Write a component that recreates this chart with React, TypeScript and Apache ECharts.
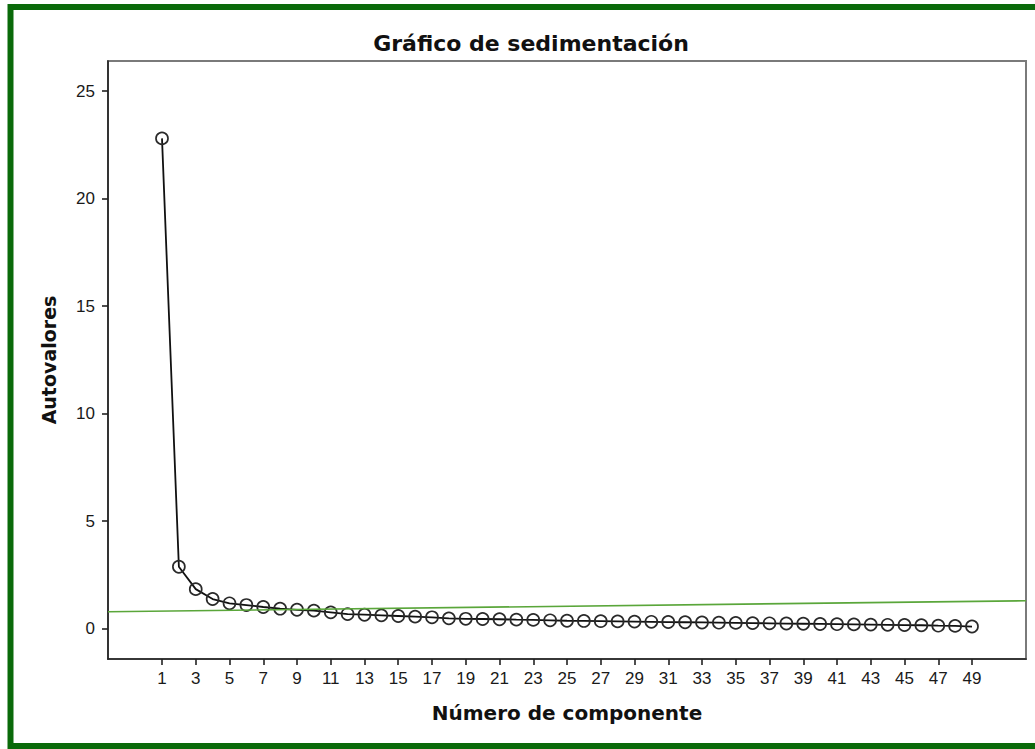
import React, { useEffect, useRef } from "react";
import * as echarts from "echarts";

const components = [
  1, 2, 3, 4, 5, 6, 7, 8, 9, 10, 11, 12, 13, 14, 15, 16, 17, 18, 19, 20, 21, 22, 23, 24, 25,
  26, 27, 28, 29, 30, 31, 32, 33, 34, 35, 36, 37, 38, 39, 40, 41, 42, 43, 44, 45, 46, 47, 48, 49,
];
const eigenvalues = [
  22.8, 2.87, 1.83, 1.37, 1.17, 1.09, 1.0, 0.92, 0.87, 0.83, 0.75, 0.67, 0.64, 0.61, 0.58,
  0.55, 0.52, 0.47, 0.45, 0.44, 0.43, 0.41, 0.4, 0.38, 0.36, 0.35, 0.34, 0.33, 0.32, 0.31,
  0.3, 0.29, 0.28, 0.27, 0.26, 0.25, 0.24, 0.23, 0.22, 0.21, 0.2, 0.19, 0.18, 0.17, 0.16,
  0.15, 0.13, 0.12, 0.09,
];
const xTickLabels = [
  1, 3, 5, 7, 9, 11, 13, 15, 17, 19, 21, 23, 25, 27, 29, 31, 33, 35, 37, 39, 41, 43, 45, 47, 49,
];
const yTickLabels = [0, 5, 10, 15, 20, 25];
const refLineX = [-2.2, 52.2];
const refLineY = [0.78, 1.29];

const X_MIN = -2.2;
const X_MAX = 52.2;
const Y_MIN = -1.42;
const Y_MAX = 26.4;

export default function App() {
  const ref = useRef<HTMLDivElement>(null);

  useEffect(() => {
    if (!ref.current) return;
    const chart = echarts.init(ref.current, undefined, { renderer: "svg" });
    const labelFont = "Liberation Sans";
    const boldFont = "DejaVu Sans";
    chart.setOption({
      animation: false,
      backgroundColor: "#ffffff",
      title: {
        text: "Gráfico de sedimentación",
        left: 526,
        top: 27,
        textAlign: "center",
        textStyle: {
          fontFamily: boldFont,
          fontWeight: "bold",
          fontSize: 22,
          color: "#111",
        },
      },
      graphic: [
        {
          type: "rect",
          shape: { x: 10.5, y: 7, width: 1100, height: 739 },
          style: { fill: "none", stroke: "#0a6a0a", lineWidth: 6 },
          silent: true,
          z: 100,
        },
      ],
      grid: {
        left: 108,
        top: 61,
        right: 9,
        bottom: 90,
        show: true,
        borderColor: "#7a7a7a",
        borderWidth: 2,
        backgroundColor: "transparent",
      },
      xAxis: {
        type: "value",
        min: X_MIN,
        max: X_MAX,
        name: "Número de componente",
        nameLocation: "middle",
        nameGap: 44,
        nameTextStyle: {
          fontFamily: boldFont,
          fontWeight: "bold",
          fontSize: 20,
          color: "#111",
        },
        axisLine: { show: true, onZero: false, lineStyle: { color: "#222", width: 1.6 } },
        axisTick: {
          show: true,
          length: 6,
          lineStyle: { color: "#222", width: 1.6 },
          customValues: xTickLabels,
        },
        axisLabel: {
          show: true,
          margin: 11,
          fontFamily: labelFont,
          fontSize: 17,
          color: "#1a1a1a",
          customValues: xTickLabels,
        },
        splitLine: { show: false },
      },
      yAxis: {
        type: "value",
        min: Y_MIN,
        max: Y_MAX,
        name: "Autovalores",
        nameLocation: "middle",
        nameRotate: 90,
        nameGap: 50,
        nameTextStyle: {
          fontFamily: boldFont,
          fontWeight: "bold",
          fontSize: 19,
          color: "#111",
        },
        axisLine: { show: true, onZero: false, lineStyle: { color: "#222", width: 1.6 } },
        axisTick: {
          show: true,
          length: 6,
          lineStyle: { color: "#222", width: 1.6 },
          customValues: yTickLabels,
        },
        axisLabel: {
          show: true,
          margin: 13,
          fontFamily: labelFont,
          fontSize: 17,
          color: "#1a1a1a",
          customValues: yTickLabels,
        },
        splitLine: { show: false },
      },
      series: [
        {
          type: "line",
          data: refLineX.map((x, i) => [x, refLineY[i]]),
          showSymbol: false,
          symbol: "none",
          lineStyle: { color: "#5aa63a", width: 1.6 },
          silent: true,
          z: 3,
        },
        {
          type: "line",
          data: components.map((c, i) => [c, eigenvalues[i]]),
          symbol: "circle",
          symbolSize: 12,
          showAllSymbol: true,
          itemStyle: { color: "rgba(0,0,0,0)", borderColor: "#2a2a2a", borderWidth: 1.7 },
          lineStyle: { color: "#111", width: 1.8 },
          z: 2,
        },
      ],
    });
    return () => chart.dispose();
  }, []);

  return (
    <div
      ref={ref}
      style={{ position: "absolute", left: 0, top: 0, width: 1035, height: 749 }}
    />
  );
}
